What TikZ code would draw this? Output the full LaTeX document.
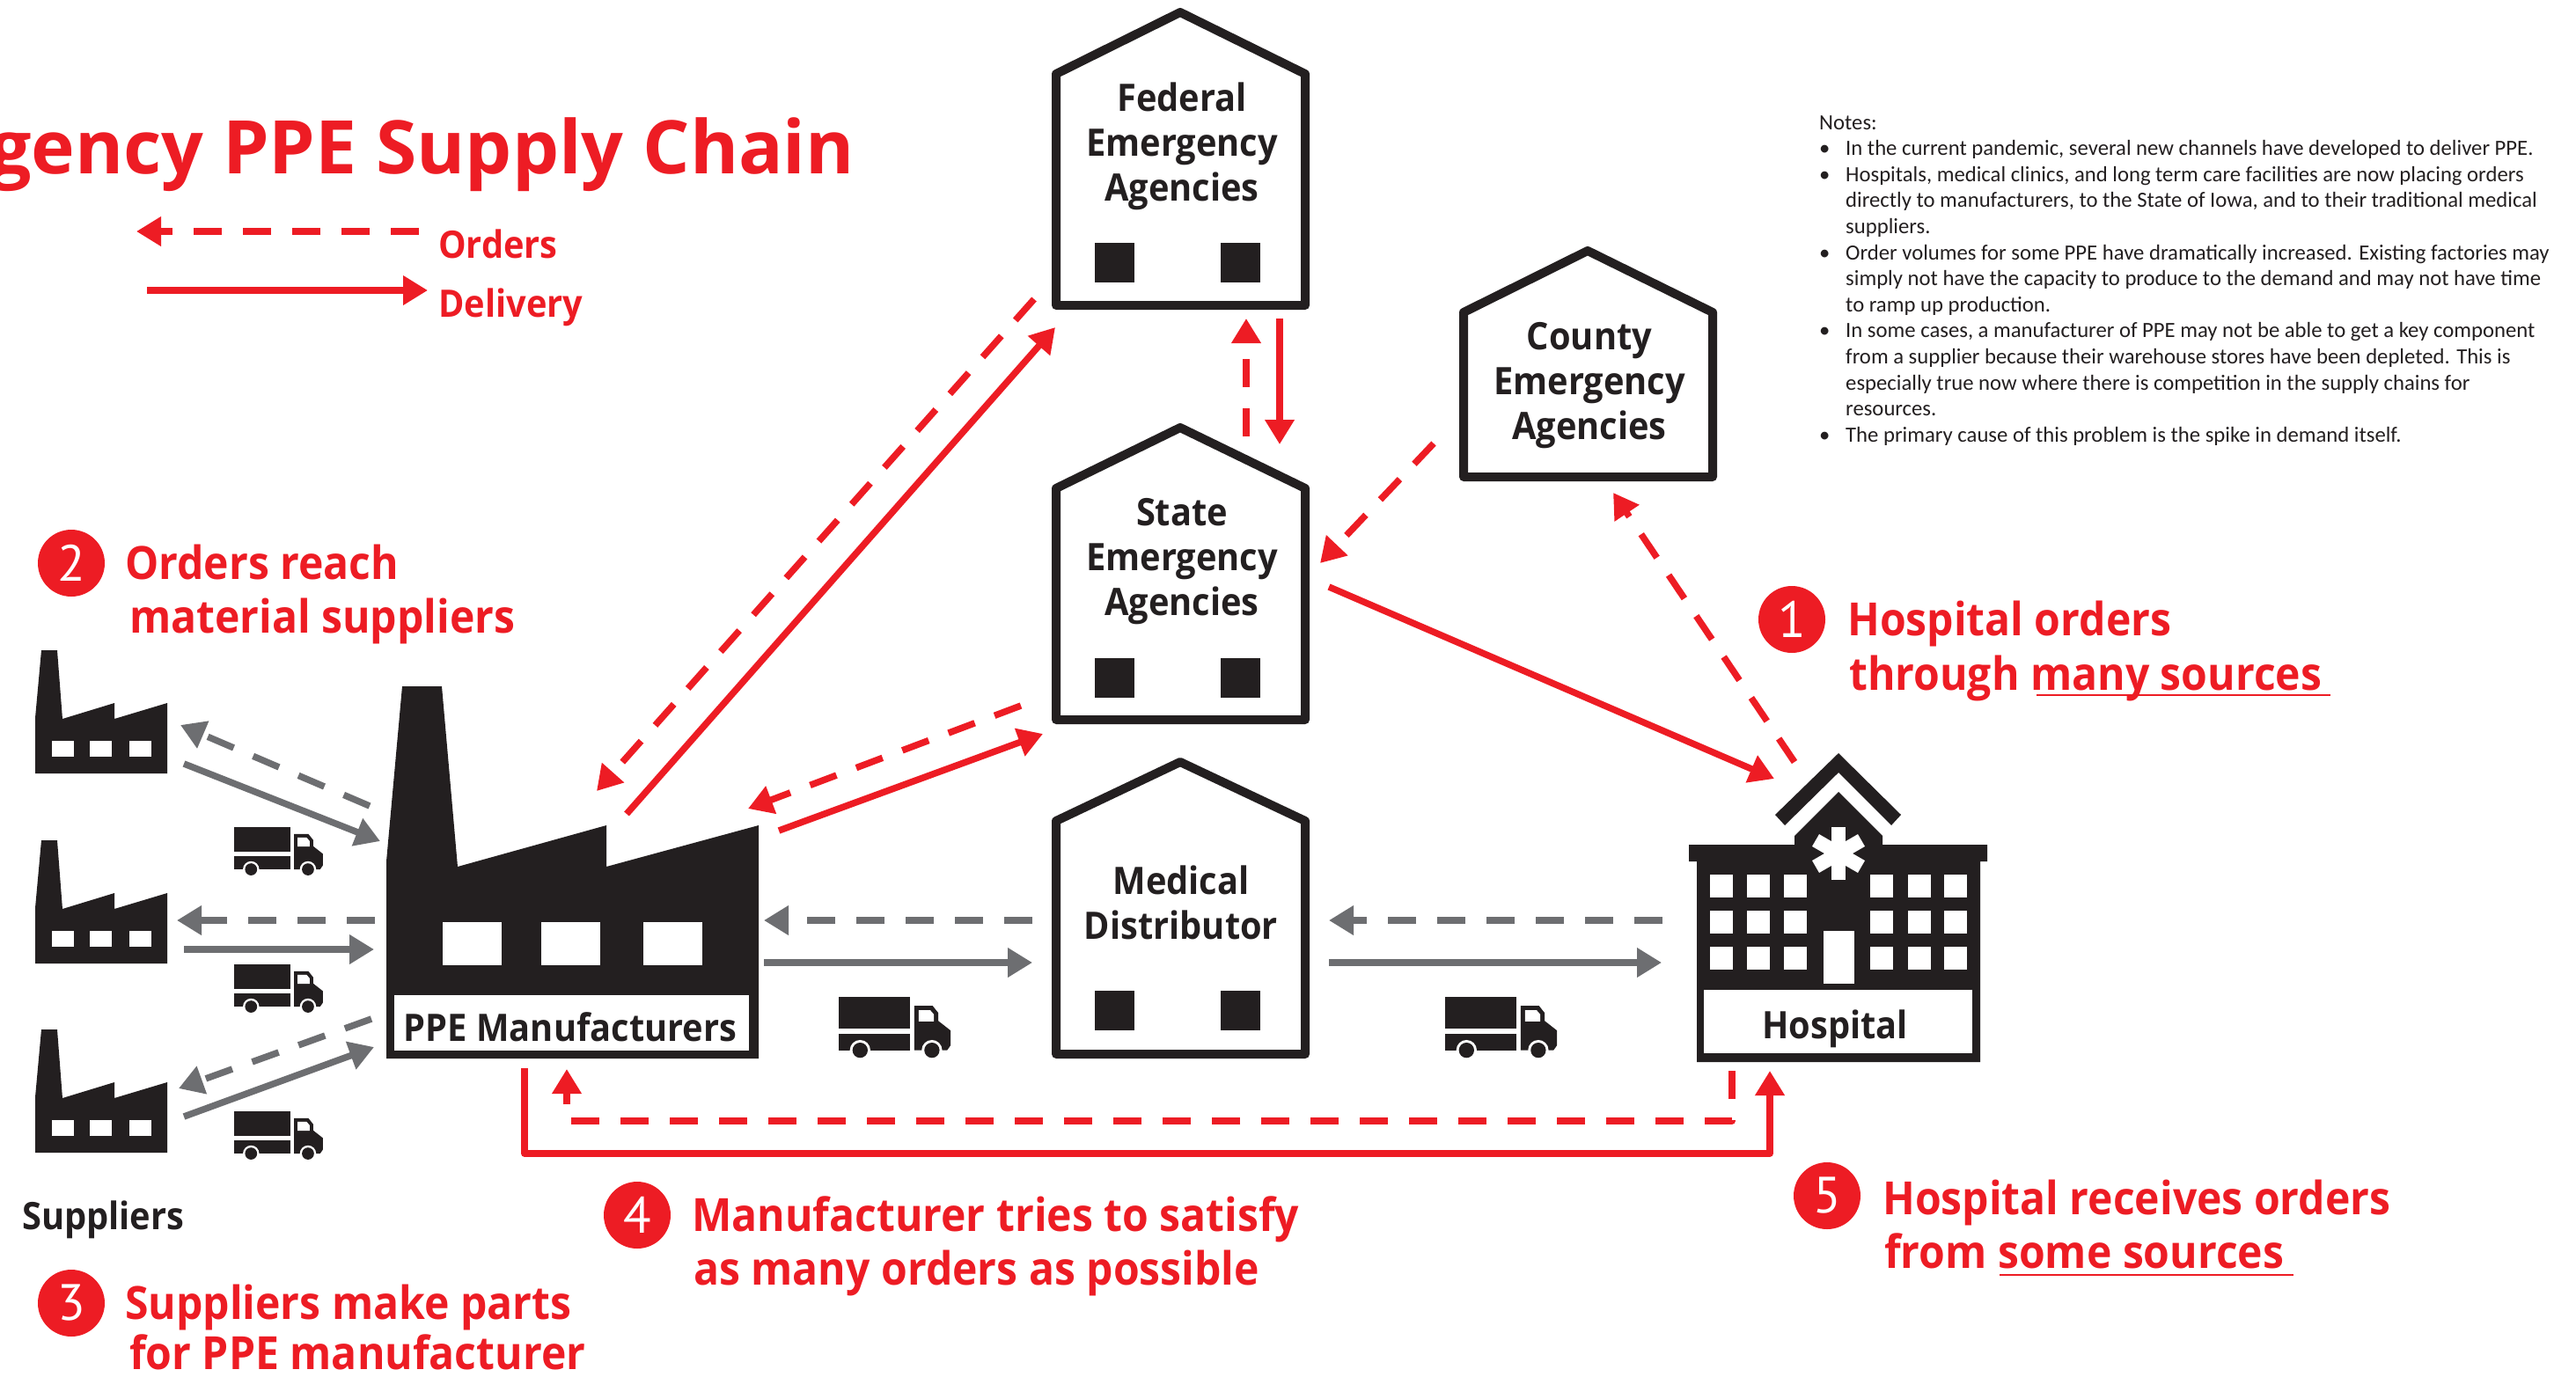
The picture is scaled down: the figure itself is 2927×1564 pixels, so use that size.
\documentclass[tikz,border=0pt]{standalone}
\usepackage{fontspec}
\setmainfont{PT Sans}
\newfontfamily\notefont{Carlito}
\newfontfamily\titlefont{Open Sans Bold}
\newfontfamily\labelfont[FakeStretch=.925]{Open Sans Bold}
\newfontfamily\digitfont{PT Sans}
\usetikzlibrary{arrows.meta}
\definecolor{ink}{HTML}{231F20}
\definecolor{alert}{HTML}{ED1C24}
\definecolor{steel}{HTML}{6D6E71}
\tikzset{
  house/.style={draw=ink,fill=white,line width=10pt,line join=round},
  orders/.style={line width=7.5pt,dash pattern=on 32pt off 24pt,-{Triangle[length=28pt,width=32pt]}},
  delivery/.style={line width=7.5pt,-{Triangle[length=28pt,width=32pt]}},
  redtext/.style={anchor=base west,text=alert,inner sep=0pt,font=\labelfont\fontsize{52}{61}\selectfont},
  blacktext/.style={text=ink,inner sep=0pt,align=center,font=\labelfont\fontsize{43}{51}\selectfont},
  badge/.style={circle,fill=alert,text=white,inner sep=0pt,minimum size=76pt,font=\digitfont\fontsize{58}{58}\selectfont},
  truck/.pic={
    \fill[ink] (0,0) rectangle (242,107);
    \fill[ink] (0,125) rectangle (242,182);
    \fill[ink] (258,30) -- (320,30) -- (340,55) -- (340,82) -- (382,115) -- (382,165) -- (370,182) -- (258,182) -- cycle;
    \fill[white] (273,45) -- (312,45) -- (325,60) -- (325,84) -- (273,84) -- cycle;
    \foreach \wx in {73,318} {
      \fill[white] (\wx,182) circle (35pt);
      \fill[ink] (\wx,182) circle (26pt);
    }
  },
  supplier/.pic={
    \fill[ink] (7,0) -- (25,0) -- (31,78) -- (90,60) -- (90,78) -- (150,60) -- (150,140) -- (0,140) -- (0,77) -- cycle;
    \foreach \wx in {19,62,107} \fill[white] (\wx,103) rectangle +(25,18);
  }
}
\begin{document}
\begin{tikzpicture}[x=1pt,y=-1pt]
\useasboundingbox (0,0) rectangle (2927,1564);
% title and legend
\node[redtext,anchor=base east,font=\titlefont\fontsize{84}{90}\selectfont] (title) at (971,197) {gency PPE Supply Chain};
\coordinate (legendOrdersA) at (476,263);
\coordinate (legendOrdersB) at (155,263);
\coordinate (legendDeliveryA) at (167,330);
\coordinate (legendDeliveryB) at (486,330);
\draw[orders,alert] (legendOrdersA) -- (legendOrdersB);
\draw[delivery,alert] (legendDeliveryA) -- (legendDeliveryB);
\node[redtext,font=\labelfont\fontsize{43}{50}\selectfont] (legendOrders) at (498,293) {Orders};
\node[redtext,font=\labelfont\fontsize{43}{50}\selectfont] (legendDelivery) at (498,360) {Delivery};
% suppliers
\pic at (40,739) {supplier};
\pic at (40,955) {supplier};
\pic at (40,1170) {supplier};
\node[blacktext,anchor=base west] (suppliers) at (25,1397) {Suppliers};
\pic[scale=.264] at (266,940) {truck};
\pic[scale=.264] at (266,1096) {truck};
\pic[scale=.264] at (266,1263) {truck};
% PPE manufacturers
\fill[ink] (457,780) -- (502,780) -- (520,985) -- (689,938) -- (689,985) -- (862,938) -- (862,1203) -- (439,1203) -- (439,979) -- cycle;
\foreach \wx in {503,615,731} \fill[white] (\wx,1048) rectangle +(67,49);
\fill[white] (448,1131) rectangle (851,1194);
\node[blacktext,anchor=base] (manufacturers) at (648,1183) {PPE Manufacturers};
% emergency agencies and distributor
\draw[house] (1200,347) -- (1200,84) -- (1341,14) -- (1483,84) -- (1483,347) -- cycle;
\draw[house] (1200,818) -- (1200,555) -- (1341,486) -- (1483,555) -- (1483,818) -- cycle;
\draw[house] (1200,1198) -- (1200,933) -- (1341,866) -- (1483,933) -- (1483,1198) -- cycle;
\draw[house] (1663,542) -- (1663,355) -- (1804,285) -- (1946,355) -- (1946,542) -- cycle;
\foreach \wy in {276,748,1126} {
  \fill[ink] (1244,\wy) rectangle +(45,45);
  \fill[ink] (1387,\wy) rectangle +(45,45);
}
\node[blacktext] (federal) at (1343,166) {Federal\\Emergency\\Agencies};
\node[blacktext] (state) at (1343,638) {State\\Emergency\\Agencies};
\node[blacktext] (county) at (1806,438) {County\\Emergency\\Agencies};
\node[blacktext] (distributor) at (1342,1026) {Medical\\Distributor};
\pic[scale=.333] at (953,1133) {truck};
\pic[scale=.333] at (1642,1133) {truck};
% hospital
\fill[ink] (2017,926) -- (2089,856) -- (2160,926) -- (2149,938) -- (2089,878) -- (2028,938) -- cycle;
\fill[ink] (2089,900) -- (2139,950) -- (2139,960) -- (2258,960) -- (2258,979) -- (2250,979) -- (2250,1207) -- (1928,1207) -- (1928,979) -- (1919,979) -- (1919,960) -- (2039,960) -- (2039,950) -- cycle;
\foreach \wa in {0,60,120} \fill[white,rotate around={\wa:(2089,970)}] (2081,940) rectangle (2097,1000);
\foreach \wx in {1943,1985,2027,2125,2168,2209} \foreach \wy in {994,1035,1076} \fill[white] (\wx,\wy) rectangle +(25.5,25.5);
\fill[white] (2072,1058) rectangle (2107,1118);
\fill[white] (1936,1125) rectangle (2241,1197);
\node[blacktext,anchor=base] (hospital) at (2085,1180) {Hospital};
% grey arrows
\coordinate (supOneOut) at (420,916);
\coordinate (supOneTip) at (205,824);
\coordinate (supOneFrom) at (209,868);
\coordinate (ppeTipOne) at (432,956);
\coordinate (supTwoOut) at (426,1046);
\coordinate (supTwoTip) at (201,1046);
\coordinate (supTwoFrom) at (209,1079);
\coordinate (ppeTipTwo) at (425,1079);
\coordinate (supThreeOut) at (422,1158);
\coordinate (supThreeTip) at (203,1237);
\coordinate (supThreeFrom) at (209,1269);
\coordinate (ppeTipThree) at (425,1190);
\coordinate (medOrdersOut) at (1173,1046);
\coordinate (ppeOrdersTip) at (868,1046);
\coordinate (ppeDelOut) at (868,1094);
\coordinate (medDelTip) at (1173,1094);
\coordinate (hosOrdersOut) at (1889,1046);
\coordinate (medOrdersTip) at (1510,1046);
\coordinate (medDelOut) at (1510,1094);
\coordinate (hosDelTip) at (1888,1094);
\draw[orders,steel] (supOneOut) -- (supOneTip);
\draw[delivery,steel] (supOneFrom) -- (ppeTipOne);
\draw[orders,steel] (supTwoOut) -- (supTwoTip);
\draw[delivery,steel] (supTwoFrom) -- (ppeTipTwo);
\draw[orders,steel] (supThreeOut) -- (supThreeTip);
\draw[delivery,steel] (supThreeFrom) -- (ppeTipThree);
\draw[orders,steel] (medOrdersOut) -- (ppeOrdersTip);
\draw[delivery,steel] (ppeDelOut) -- (medDelTip);
\draw[orders,steel] (hosOrdersOut) -- (medOrdersTip);
\draw[delivery,steel] (medDelOut) -- (hosDelTip);
% red arrows
\coordinate (fedOut) at (1175,340);
\coordinate (ppeFedTip) at (678,899);
\coordinate (ppeFedOut) at (712,925);
\coordinate (fedTip) at (1199,372);
\coordinate (stateOut) at (1160,802);
\coordinate (ppeStateTip) at (850,919);
\coordinate (ppeStateOut) at (885,944);
\coordinate (stateTip) at (1185,834);
\coordinate (stateUp) at (1416,496);
\coordinate (fedDownTip) at (1416,362);
\coordinate (fedDown) at (1454,362);
\coordinate (stateDownTip) at (1454,505);
\coordinate (countyOut) at (1629,504);
\coordinate (stateCountyTip) at (1500,640);
\coordinate (stateHosOut) at (1510,667);
\coordinate (hosTip) at (2016,885);
\coordinate (hosOut) at (2039,866);
\coordinate (countyTip) at (1833,560);
\coordinate (hosDash) at (1968,1217);
\coordinate (hosDashC) at (1968,1274);
\coordinate (ppeDashC) at (644,1274);
\coordinate (ppeDashTip) at (644,1215);
\coordinate (ppeSolid) at (596,1214);
\coordinate (ppeSolidC) at (596,1311);
\coordinate (hosSolidC) at (2011,1311);
\coordinate (hosSolidTip) at (2011,1217);
\draw[orders,alert] (fedOut) -- (ppeFedTip);
\draw[delivery,alert] (ppeFedOut) -- (fedTip);
\draw[orders,alert] (stateOut) -- (ppeStateTip);
\draw[delivery,alert] (ppeStateOut) -- (stateTip);
\draw[orders,alert] (stateUp) -- (fedDownTip);
\draw[delivery,alert] (fedDown) -- (stateDownTip);
\draw[orders,alert] (countyOut) -- (stateCountyTip);
\draw[delivery,alert] (stateHosOut) -- (hosTip);
\draw[orders,alert] (hosOut) -- (countyTip);
\draw[orders,alert,line join=round] (hosDash) -- (hosDashC) -- (ppeDashC) -- (ppeDashTip);
\draw[delivery,alert,line join=round] (ppeSolid) -- (ppeSolidC) -- (hosSolidC) -- (hosSolidTip);
% numbered steps
\node[badge] (badgeOne) at (2036,704) {1};
\node[redtext] (stepOneA) at (2099,722) {Hospital orders};
\node[redtext] (stepOneB) at (2101,784) {through many sources};
\draw[alert,line width=2.5pt] (2314,790) -- (2648,790);
\node[badge] (badgeTwo) at (81,640) {2};
\node[redtext] (stepTwoA) at (142,658) {Orders reach};
\node[redtext] (stepTwoB) at (147,719) {material suppliers};
\node[badge] (badgeThree) at (81,1481) {3};
\node[redtext] (stepThreeA) at (142,1499) {Suppliers make parts};
\node[redtext] (stepThreeB) at (147,1556) {for PPE manufacturer};
\node[badge] (badgeFour) at (724,1381) {4};
\node[redtext] (stepFourA) at (786,1399) {Manufacturer tries to satisfy};
\node[redtext] (stepFourB) at (788,1460) {as many orders as possible};
\node[badge] (badgeFive) at (2076,1359) {5};
\node[redtext] (stepFiveA) at (2139,1380) {Hospital receives orders};
\node[redtext] (stepFiveB) at (2141,1441) {from some sources};
\draw[alert,line width=2.5pt] (2272,1449) -- (2606,1449);
% notes
\node[anchor=north west,inner sep=0pt,align=left,text=ink,font=\notefont\fontsize{24.7}{29.6}\selectfont] (notes) at (2067,131) {Notes:\\
\makebox[30pt][l]{•}In the current pandemic, several new channels have developed to deliver PPE.\\
\makebox[30pt][l]{•}Hospitals, medical clinics, and long term care facilities are now placing orders\\
\makebox[30pt][l]{}directly to manufacturers, to the State of Iowa, and to their traditional medical\\
\makebox[30pt][l]{}suppliers.\\
\makebox[30pt][l]{•}Order volumes for some PPE have dramatically increased. Existing factories may\\
\makebox[30pt][l]{}simply not have the capacity to produce to the demand and may not have time\\
\makebox[30pt][l]{}to ramp up production.\\
\makebox[30pt][l]{•}In some cases, a manufacturer of PPE may not be able to get a key component\\
\makebox[30pt][l]{}from a supplier because their warehouse stores have been depleted. This is\\
\makebox[30pt][l]{}especially true now where there is competition in the supply chains for\\
\makebox[30pt][l]{}resources.\\
\makebox[30pt][l]{•}The primary cause of this problem is the spike in demand itself.};
\end{tikzpicture}
\end{document}
